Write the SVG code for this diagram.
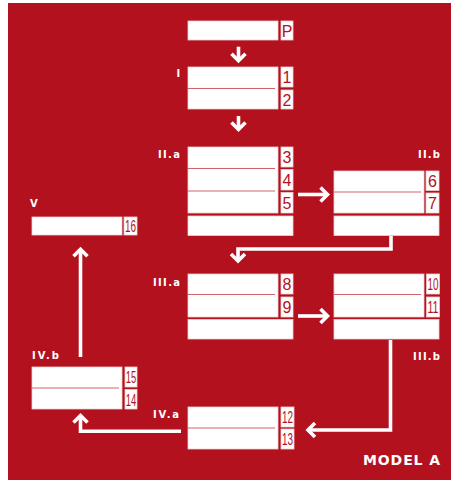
<svg xmlns="http://www.w3.org/2000/svg" width="453" height="481" viewBox="0 0 453 481">
<defs>
<style>
.bg{fill:#b3111e}
.box{fill:#fff;stroke:#f2cdd0;stroke-width:0.8}
.div{stroke:#d0646c;stroke-width:1.2}
.num{font-family:"Liberation Sans",Arial,sans-serif;font-size:16px;fill:#b3111e;text-anchor:middle}
.lbl{font-family:"DejaVu Sans","Liberation Sans",sans-serif;font-weight:bold;font-size:10px;fill:#fff}
.con{fill:none;stroke:#fff;stroke-width:3.6;stroke-linejoin:miter;stroke-linecap:butt}
.title{font-family:"DejaVu Sans","Liberation Sans",sans-serif;font-weight:bold;font-size:14px;fill:#fff}
</style>
<marker id="ah" markerUnits="userSpaceOnUse" markerWidth="24" markerHeight="24" refX="12" refY="12" orient="auto" overflow="visible">
<path d="M5,5 L12,12 L5,19" fill="none" stroke="#fff" stroke-width="3.6" stroke-linejoin="miter"/>
</marker>
</defs>
<rect class="bg" x="8" y="3" width="443" height="477"/>

<g id="connectors">
<path class="con" d="M238.5,46.7 V60.8" marker-end="url(#ah)"/>
<path class="con" d="M238.5,116 V129.5" marker-end="url(#ah)"/>
<path class="con" d="M298,194.5 H327.5" marker-end="url(#ah)"/>
<path class="con" d="M391,236 V249 H238 V261" marker-end="url(#ah)"/>
<path class="con" d="M298,316 H327.5" marker-end="url(#ah)"/>
<path class="con" d="M390.5,340 V430 H308" marker-end="url(#ah)"/>
<path class="con" d="M181,431.3 H80.5 V415.5" marker-end="url(#ah)"/>
<path class="con" d="M80.5,357 V249.2" marker-end="url(#ah)"/>
</g>

<g id="node-P">
<rect class="box" x="188" y="21" width="90" height="19"/>
<rect class="box" x="281" y="21" width="12" height="19"/>
<text class="num" x="287" y="37">P</text>
</g>

<g id="node-I">
<text class="lbl" x="176.5" y="77">I</text>
<rect class="box" x="188" y="67" width="90" height="42"/>
<line class="div" x1="188" y1="88.5" x2="275" y2="88.5"/>
<rect class="box" x="281" y="67" width="12" height="20"/>
<rect class="box" x="281" y="90" width="12" height="19"/>
<text class="num" x="287" y="83">1</text>
<text class="num" x="287" y="105.5">2</text>
</g>

<g id="node-IIa">
<text class="lbl" x="158" y="158" textLength="22">II.a</text>
<rect class="box" x="188" y="147" width="90" height="66"/>
<line class="div" x1="188" y1="168.5" x2="275" y2="168.5"/>
<line class="div" x1="188" y1="191" x2="275" y2="191"/>
<rect class="box" x="281" y="147" width="12" height="20"/>
<rect class="box" x="281" y="169.5" width="12" height="20.5"/>
<rect class="box" x="281" y="192.5" width="12" height="20.5"/>
<text class="num" x="287" y="163">3</text>
<text class="num" x="287" y="186">4</text>
<text class="num" x="287" y="209">5</text>
<rect class="box" x="188" y="216" width="105" height="19.5"/>
</g>

<g id="node-IIb">
<text class="lbl" x="418" y="157.5" textLength="22">II.b</text>
<rect class="box" x="334" y="171" width="90" height="42"/>
<line class="div" x1="334" y1="192" x2="421" y2="192"/>
<rect class="box" x="426" y="171" width="13" height="19.5"/>
<rect class="box" x="426" y="193" width="13" height="20"/>
<text class="num" x="432.5" y="187">6</text>
<text class="num" x="432.5" y="209">7</text>
<rect class="box" x="334" y="216" width="105" height="19.5"/>
</g>

<g id="node-V">
<text class="lbl" x="30" y="206.5" textLength="6.5">V</text>
<rect class="box" x="32" y="217" width="90" height="18"/>
<rect class="box" x="124" y="217" width="13" height="18"/>
<text class="num" x="130.5" y="232" textLength="11" lengthAdjust="spacingAndGlyphs">16</text>
</g>

<g id="node-IIIa">
<text class="lbl" x="153" y="286" textLength="27">III.a</text>
<rect class="box" x="188" y="274" width="90" height="43"/>
<line class="div" x1="188" y1="294.5" x2="275" y2="294.5"/>
<rect class="box" x="281" y="274" width="12" height="20"/>
<rect class="box" x="281" y="297" width="12" height="20"/>
<text class="num" x="287" y="290">8</text>
<text class="num" x="287" y="313">9</text>
<rect class="box" x="188" y="319.5" width="105" height="19.5"/>
</g>

<g id="node-IIIb">
<text class="lbl" x="413" y="359.5" textLength="27">III.b</text>
<rect class="box" x="334" y="274" width="90" height="43"/>
<line class="div" x1="334" y1="294.5" x2="421" y2="294.5"/>
<rect class="box" x="426.5" y="274" width="13" height="20"/>
<rect class="box" x="426.5" y="297" width="13" height="20"/>
<text class="num" x="433" y="290" textLength="11" lengthAdjust="spacingAndGlyphs">10</text>
<text class="num" x="433" y="313" textLength="11" lengthAdjust="spacingAndGlyphs">11</text>
<rect class="box" x="334" y="319.5" width="105" height="19.5"/>
</g>

<g id="node-IVb">
<text class="lbl" x="32" y="358.5" textLength="27">IV.b</text>
<rect class="box" x="32" y="367" width="90" height="42"/>
<line class="div" x1="32" y1="388" x2="119" y2="388"/>
<rect class="box" x="125" y="367" width="12" height="20"/>
<rect class="box" x="125" y="389.5" width="12" height="19.5"/>
<text class="num" x="131" y="383" textLength="10.5" lengthAdjust="spacingAndGlyphs">15</text>
<text class="num" x="131" y="405.5" textLength="10.5" lengthAdjust="spacingAndGlyphs">14</text>
</g>

<g id="node-IVa">
<text class="lbl" x="153" y="417.5" textLength="26">IV.a</text>
<rect class="box" x="188" y="407" width="90" height="42"/>
<line class="div" x1="188" y1="428" x2="275" y2="428"/>
<rect class="box" x="281" y="407" width="13" height="20"/>
<rect class="box" x="281" y="429" width="13" height="20"/>
<text class="num" x="287.5" y="423" textLength="11" lengthAdjust="spacingAndGlyphs">12</text>
<text class="num" x="287.5" y="445" textLength="11" lengthAdjust="spacingAndGlyphs">13</text>
</g>

<text class="title" x="363" y="464.5" textLength="77">MODEL A</text>
</svg>
